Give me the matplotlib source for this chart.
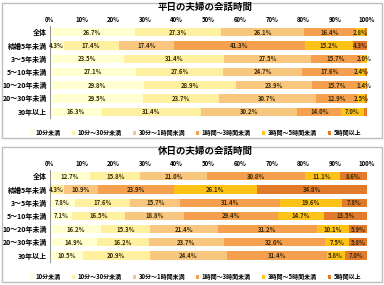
# -*- coding: utf-8 -*-
import numpy as np
import matplotlib.pyplot as plt
from matplotlib.patches import Rectangle

plt.rcParams['font.family'] = ['Noto Sans CJK JP', 'DejaVu Sans']

groups = ['全体', '結婚5年未満', '3～5年未満', '5～10年未満', '10～20年未満', '20～30年未満', '30年以上']
cats = ['10分未満', '10分～30分未満', '30分～1時間未満', '1時間～3時間未満', '3時間～5時間未満', '5時間以上']
colors = ['#FFFFCF', '#FFF0A0', '#F9C680', '#F4A04E', '#FFC318', '#E27A2C']

# 平日 (rows = groups, columns = cats)
heijitsu = [
    [26.7, 27.3, 26.1, 16.4, 2.8, 0.7],
    [4.3, 17.4, 17.4, 41.3, 15.2, 4.3],
    [23.5, 31.4, 27.5, 15.7, 2.0, 0.0],
    [27.1, 27.6, 24.7, 17.6, 2.4, 0.6],
    [29.8, 28.9, 23.9, 15.7, 1.4, 0.3],
    [29.5, 23.7, 30.7, 12.9, 2.5, 0.7],
    [16.3, 31.4, 30.2, 14.0, 7.0, 1.1],
]
# 休日
kyujitsu = [
    [12.7, 15.8, 21.0, 30.8, 11.1, 8.6],
    [0.0, 4.3, 10.9, 23.9, 26.1, 34.8],
    [7.8, 17.6, 15.7, 31.4, 19.6, 7.8],
    [7.1, 16.5, 18.8, 29.4, 14.7, 13.5],
    [16.2, 15.3, 21.4, 31.2, 10.1, 5.9],
    [14.9, 16.2, 23.7, 32.0, 7.5, 5.8],
    [10.5, 20.9, 24.4, 31.4, 5.8, 7.0],
]
titles = ['平日の夫婦の会話時間', '休日の夫婦の会話時間']

fig = plt.figure(figsize=(3.84, 2.85), dpi=100)

# panel frames
for y0 in [0.515, 0.01]:
    fig.patches.append(Rectangle((0.005, y0), 0.99, 0.475, transform=fig.transFigure,
                                 fill=False, edgecolor='#bdbdbd', lw=1.0, zorder=-1))

def draw(ax, data, title):
    data = np.array(data)
    y = np.arange(len(groups))
    left = np.zeros(len(groups))
    for j in range(len(cats)):
        ax.barh(y, data[:, j], left=left, height=0.62, color=colors[j], label=cats[j])
        for i in range(len(groups)):
            v = data[i, j]
            if v >= 1.3:
                ax.text(left[i] + v / 2, y[i], '%.1f%%' % v, ha='center', va='center',
                        fontsize=4.3, color='#3a2a08', fontweight='bold')
        left = left + data[:, j]
    ax.set_xlim(0, 100)
    ax.set_ylim(len(groups) - 0.5, -0.5)
    ax.set_yticks(y)
    ax.set_yticklabels(groups, fontsize=5, fontweight='bold')
    ax.set_xticks(np.arange(0, 101, 10))
    ax.set_xticklabels(['%d%%' % v for v in range(0, 101, 10)], fontsize=4.3, fontweight='bold')
    ax.xaxis.tick_top()
    ax.tick_params(length=0, pad=2)
    for s in ['top', 'right', 'bottom']:
        ax.spines[s].set_visible(False)
    ax.spines['left'].set_color('#999999')
    ax.spines['left'].set_linewidth(0.8)
    ax.set_title(title, fontsize=6.8, fontweight='bold', pad=4, x=0.49)

ax1 = fig.add_axes([0.13, 0.585, 0.826, 0.325])
draw(ax1, heijitsu, titles[0])
ax1.legend(loc='upper center', bbox_to_anchor=(0.46, -0.06), ncol=6, frameon=False,
           handlelength=0.5, handleheight=0.5, handletextpad=0.4, columnspacing=1.9,
           prop={'size': 4.3, 'weight': 'bold', 'family': ['Noto Sans CJK JP', 'DejaVu Sans']})

ax2 = fig.add_axes([0.13, 0.08, 0.826, 0.325])
draw(ax2, kyujitsu, titles[1])
ax2.legend(loc='upper center', bbox_to_anchor=(0.46, -0.06), ncol=6, frameon=False,
           handlelength=0.5, handleheight=0.5, handletextpad=0.4, columnspacing=1.9,
           prop={'size': 4.3, 'weight': 'bold', 'family': ['Noto Sans CJK JP', 'DejaVu Sans']})

plt.savefig('out.png', dpi=100)
